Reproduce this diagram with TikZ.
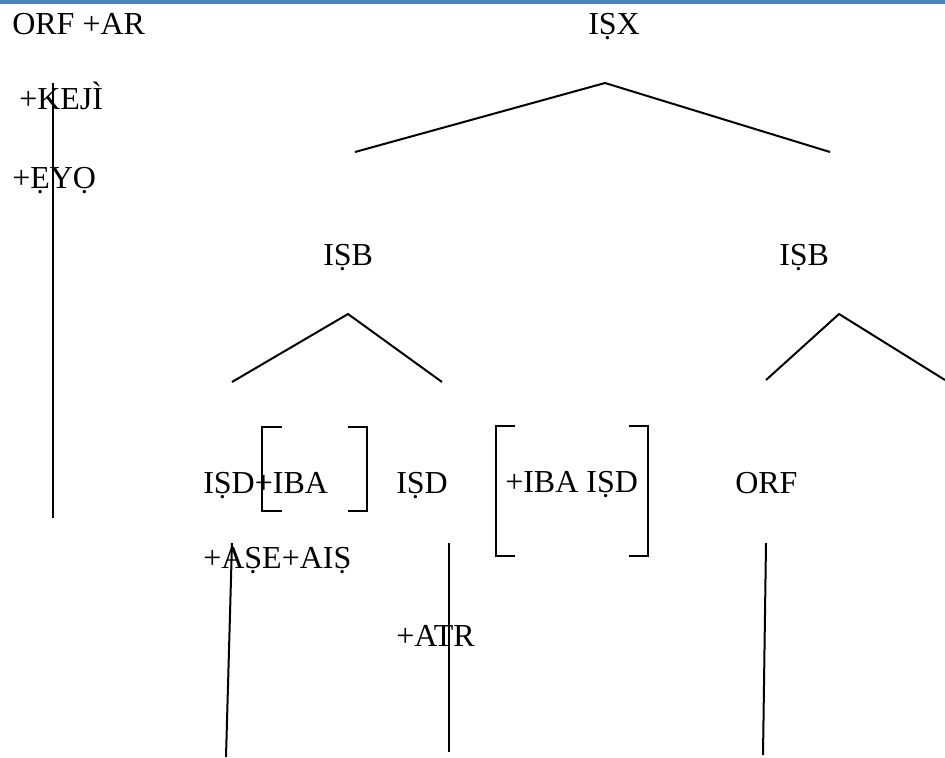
\documentclass[tikz,border=0pt]{standalone}
\usepackage{fontspec}
\setmainfont{Liberation Serif}
\definecolor{barblue}{HTML}{4F81BD}
\begin{document}
\begin{tikzpicture}[x=0.75pt,y=-0.75pt,
  lbl/.style={anchor=base west,inner sep=0pt,font=\fontsize{24pt}{28pt}\selectfont},
  ln/.style={line width=1.5pt,black},
  br/.style={line width=2pt,black}]
\useasboundingbox (0,0) rectangle (945,757);
\fill[barblue] (0,0) rectangle (945,4);
% labels
\node[lbl] (orfar) at (12,34) {ORF +AR};
\node[lbl] (isx) at (588,34) {IṢX};
\node[lbl] (keji) at (19,109) {+KEJÌ};
\node[lbl] (eyo) at (12,188) {+ẸYỌ};
\node[lbl] (isbL) at (323,265) {IṢB};
\node[lbl] (isbR) at (779,265) {IṢB};
\node[lbl] (isd1) at (203,493) {IṢD+IBA};
\node[lbl] (isd2) at (396,493) {IṢD};
\node[lbl] (ibaisd) at (505,492) {+IBA IṢD};
\node[lbl] (orf) at (735,493) {ORF};
\node[lbl] (ase) at (203,568) {+AṢE+AIṢ};
\node[lbl] (atr) at (396,646) {+ATR};
% tree coordinates
\coordinate (xA) at (605,83);
\coordinate (xL) at (355,152);
\coordinate (xR) at (830,152);
\coordinate (bA) at (348,314);
\coordinate (bL) at (232,382);
\coordinate (bR) at (442,382);
\coordinate (cA) at (839,314);
\coordinate (cL) at (766,380);
\coordinate (cR) at (945,380);
\draw[ln] (xL) -- (xA) -- (xR);
\draw[ln] (bL) -- (bA) -- (bR);
\draw[ln] (cL) -- (cA) -- (cR);
% vertical lines
\coordinate (v1t) at (53,83);
\coordinate (v1b) at (53,518);
\coordinate (v2t) at (232,543);
\coordinate (v2b) at (226,757);
\coordinate (v3t) at (449,543);
\coordinate (v3b) at (449,752);
\coordinate (v4t) at (766,543);
\coordinate (v4b) at (763,755);
\draw[ln] (v1t) -- (v1b);
\draw[ln] (v2t) -- (v2b);
\draw[ln] (v3t) -- (v3b);
\draw[ln] (v4t) -- (v4b);
% brackets
\draw[br] (282,427) -- (262,427) -- (262,511) -- (282,511);
\draw[br] (348,427) -- (367,427) -- (367,511) -- (348,511);
\draw[br] (515,426) -- (496,426) -- (496,556) -- (515,556);
\draw[br] (629,426) -- (648,426) -- (648,556) -- (629,556);
\end{tikzpicture}
\end{document}
